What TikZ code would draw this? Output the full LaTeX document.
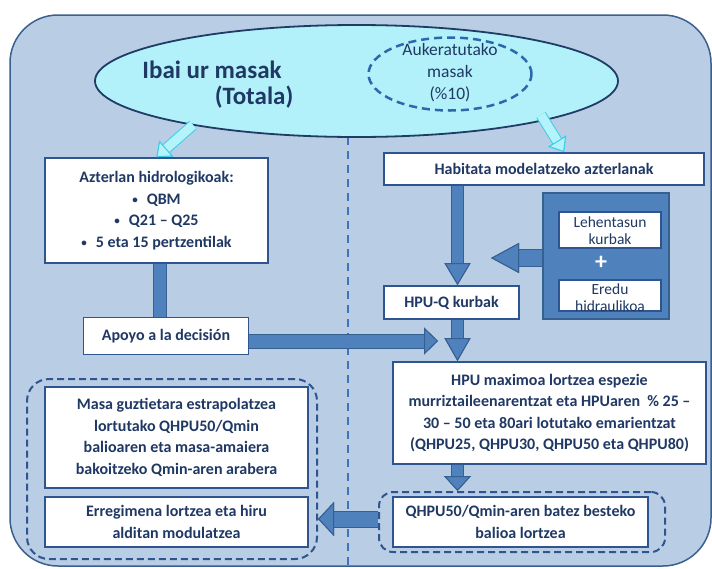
\documentclass[tikz,border=0pt]{standalone}
\usepackage{fontspec}
\setmainfont{Carlito}
\usetikzlibrary{arrows.meta,shapes.geometric,calc}
\definecolor{bgfill}{HTML}{B9CDE5}
\definecolor{bgline}{HTML}{3B5F8E}
\definecolor{ellfill}{HTML}{B3F1FA}
\definecolor{ellline}{HTML}{1F3C64}
\definecolor{selline}{HTML}{2C68AE}
\definecolor{afill}{HTML}{4F81BD}
\definecolor{aline}{HTML}{36608F}
\definecolor{boxline}{HTML}{2E5590}
\definecolor{txt}{HTML}{1F3864}
\definecolor{hfill}{HTML}{B5F3FB}
\definecolor{hline}{HTML}{3CCDEB}
\definecolor{vline}{HTML}{3E74BE}
\newcommand{\smallbul}{{\fontsize{11}{11}\selectfont\raisebox{1pt}{•}}\hspace{9pt}}
\tikzset{
  wh/.style 2 args={minimum width=#1, minimum height=#2},
  box/.style={draw=boxline, line width=1.8pt, fill=white, text=txt, inner sep=0pt, align=center,
    font=\fontsize{16}{21.5}\selectfont\bfseries},
  sbox/.style={draw=boxline, line width=1.2pt, fill=white, inner sep=0pt},
  stext/.style={text=txt, inner sep=0pt, align=center, font=\fontsize{15.5}{17}\selectfont},
  dbox/.style={draw=boxline, line width=2pt, dash pattern=on 7pt off 4pt, rounded corners=14pt, inner sep=0pt},
  blockar/.style args={#1/#2/#3/#4/#5}{draw=#4, line width=#1,
    -{Triangle[width=#2,length=#3,fill=#4,color=#5,line width=1pt]},
    preaction={draw=#5, line width=#1+2pt, -{Triangle[width=#2,length=#3,fill=#4,color=#5,line width=1pt]}}},
  bar/.style={draw=afill, line width=12pt, preaction={draw=aline, line width=14pt}},
  title/.style={anchor=base, text=txt, inner sep=0pt, font=\fontsize{25}{30}\selectfont\bfseries},
}
\begin{document}
\begin{tikzpicture}[x=1pt,y=-1pt]
\useasboundingbox (0,0) rectangle (712,568);
% background frame
\draw[fill=bgfill, draw=bgline, line width=1.5pt, rounded corners=48pt] (10,15) rectangle (711,566);
% dividing dashed line
\coordinate (v1) at (348,137);
\coordinate (v2) at (348,568);
\draw[vline, line width=1.6pt, dash pattern=on 8pt off 6pt] (v1) -- (v2);
% main ellipse
\node[ellipse, draw=ellline, line width=1.8pt, fill=ellfill, minimum width=523pt, minimum height=112pt, inner sep=0pt] (ell) at (356.5,81) {};
\node[title] (t1) at (212,78) {Ibai ur masak};
\node[title] (t2) at (254,104) {(Totala)};
\node[ellipse, draw=selline, line width=2.5pt, dash pattern=on 8pt off 5pt, minimum width=163pt, minimum height=73pt, inner sep=0pt] (sel) at (450,74) {};
\node[text=txt, inner sep=0pt, align=center, font=\fontsize{17.5}{22}\selectfont] (selt) at (450,73) {Aukeratutako\\masak\\(\%10)};
% boxes
\node[box, wh={223pt}{105pt}] (azt) at (156.5,210.5) {Azterlan hidrologikoak:\\ \smallbul QBM\\ \smallbul Q21 – Q25\\ \smallbul 5 eta 15 pertzentilak};
\node[box, wh={320pt}{32pt}] (hab) at (544,169) {Habitata modelatzeko azterlanak};
\node[draw=aline, line width=1.5pt, fill=afill, wh={126pt}{126pt}, inner sep=0pt] (panel) at (606,256) {};
\node[sbox, wh={102pt}{36pt}] (leh) at (610,230) {};
\node[stext] (leht) at (610,231) {Lehentasun\\kurbak};
\node[text=white, inner sep=0pt, font=\fontsize{24}{24}\selectfont\bfseries] (plus) at (601,263) {+};
\node[sbox, wh={102pt}{31pt}] (ered) at (610,295.5) {};
\node[stext] (eredt) at (610,297.5) {Eredu\\hidraulikoa};
\node[box, wh={135pt}{33pt}] (hpuq) at (451.5,302.5) {HPU-Q kurbak};
\node[box, wh={165pt}{37pt}] (apoyo) at (166,336) {Apoyo a la decisión};
\node[box, wh={313pt}{102pt}] (hpum) at (549.5,413) {HPU maximoa lortzea espezie\\ murriztaileenarentzat eta HPUaren\ \ \%~25 –\\ 30 – 50 eta 80ari lotutako emarientzat\\ (QHPU25, QHPU30, QHPU50 eta QHPU80)};
\node[dbox, wh={286pt}{60pt}] (qdash) at (522,522) {};
\node[box, wh={255pt}{50pt}] (qbox) at (520.5,522) {QHPU50/Qmin-aren batez besteko\\ balioa lortzea};
\node[dbox, rounded corners=22pt, wh={290pt}{180pt}] (ldash) at (172,469) {};
\node[box, wh={263pt}{101pt}] (masa) at (176.5,437.5) {Masa guztietara estrapolatzea\\ lortutako QHPU50/Qmin\\ balioaren eta masa-amaiera\\ bakoitzeko Qmin-aren arabera};
\node[box, wh={263pt}{50pt}] (erreg) at (176.5,522) {Erregimena lortzea eta hiru\\ alditan modulatzea};
% connectors
\coordinate (ax) at (457.5,0);
\coordinate (apt) at (438,341);
\coordinate (pt) at (491,258);
\coordinate (bt) at (0,519);
\coordinate (la) at (193,125);
\coordinate (ra) at (541,115);
\draw[bar] ([xshift=3.5pt]azt.south) -- ([xshift=3.5pt]azt.south |- apoyo.north);
\draw[blockar={11pt/26pt/22pt/afill/aline}] (hab.south -| ax) -- (hpuq.north -| ax);
\draw[blockar={11pt/26pt/23pt/afill/aline}] (hpuq.south -| ax) -- (hpum.north -| ax);
\draw[blockar={11pt/27pt/15pt/afill/aline}] (hpum.south -| ax) -- (qdash.north -| ax);
\draw[blockar={13pt/27pt/14pt/afill/aline}] (apoyo.east |- apt) -- (apt);
\draw[blockar={16pt/30pt/28pt/afill/aline}] (panel.west |- pt) -- (pt);
\draw[blockar={15pt/34pt/16pt/afill/aline}] (qdash.west |- bt) -- (ldash.east |- bt);
\draw[blockar={9pt/21pt/13pt/hfill/hline}] (la) -- (azt.north);
\draw[blockar={9pt/21pt/13pt/hfill/hline}] (ra) -- ([xshift=20pt]hab.north);
\end{tikzpicture}
\end{document}
